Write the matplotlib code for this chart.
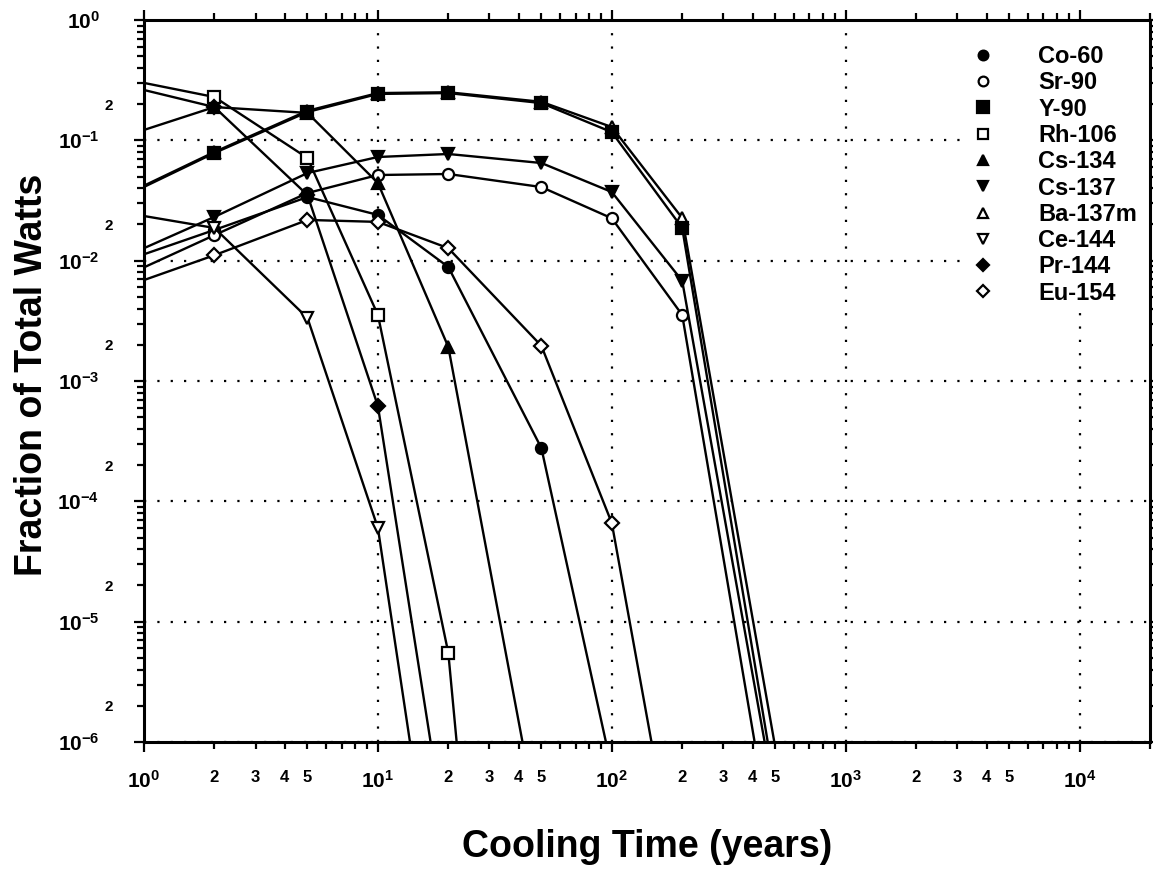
import matplotlib
matplotlib.use('Agg')
import matplotlib.pyplot as plt
import numpy as np
from matplotlib.ticker import FixedLocator, FixedFormatter, LogLocator, FuncFormatter
from matplotlib.lines import Line2D
from matplotlib.patches import Rectangle

plt.rcParams['font.family'] = ['Liberation Sans', 'DejaVu Sans']
plt.rcParams['mathtext.fontset'] = 'custom'
plt.rcParams['mathtext.rm'] = 'Liberation Sans'
plt.rcParams['mathtext.bf'] = 'Liberation Sans:bold'

# ---------------- data ----------------
YEARS = [1, 2, 5, 10, 20, 50, 100, 200, 500]

co60 = [0.0113, 0.0180, 0.0338, 0.0240, 0.00886, 2.77e-4, 6.0e-7]
sr90 = [0.0088, 0.0163, 0.0365, 0.0515, 0.0525, 0.0409, 0.0225, 0.00354, 9.7e-8]
y90 = [0.041, 0.0785, 0.172, 0.243, 0.247, 0.204, 0.117, 0.0187, 4.2e-7]
rh106 = [0.300, 0.229, 0.0713, 0.00354, 5.5e-6, 3e-14]
cs134 = [0.122, 0.189, 0.169, 0.0442, 0.00192, 1.46e-7]
cs137 = [0.0127, 0.0231, 0.0535, 0.0727, 0.0770, 0.0648, 0.0372, 0.0068, 3.2e-7]
ba137m = [0.042, 0.080, 0.176, 0.247, 0.251, 0.209, 0.129, 0.0226, 9e-7]
ce144 = [0.0235, 0.0187, 0.00334, 6.0e-5, 7.5e-9]
pr144 = [0.262, 0.189, 0.0351, 6.2e-4, 1.15e-7]
eu154 = [0.0069, 0.0111, 0.0218, 0.0210, 0.0127, 0.00196, 6.6e-5, 3.9e-8]

NUCLIDES = ['Co-60', 'Sr-90', 'Y-90', 'Rh-106', 'Cs-134', 'Cs-137',
            'Ba-137m', 'Ce-144', 'Pr-144', 'Eu-154']
SERIES = [co60, sr90, y90, rh106, cs134, cs137, ba137m, ce144, pr144, eu154]

X_MAJOR = [1, 10, 100, 1000, 10000]
X_MAJOR_LABELS = [r'$\mathbf{10^{0}}$', r'$\mathbf{10^{1}}$', r'$\mathbf{10^{2}}$',
                  r'$\mathbf{10^{3}}$', r'$\mathbf{10^{4}}$']
Y_MAJOR = [1e0, 1e-1, 1e-2, 1e-3, 1e-4, 1e-5, 1e-6]
Y_MAJOR_LABELS = [r'$\mathbf{10^{0}}$', r'$\mathbf{10^{-1}}$', r'$\mathbf{10^{-2}}$',
                  r'$\mathbf{10^{-3}}$', r'$\mathbf{10^{-4}}$', r'$\mathbf{10^{-5}}$',
                  r'$\mathbf{10^{-6}}$']
X_MINOR_LABELED = [2, 3, 4, 5]
Y_MINOR_LABELED = [2]

# ---------------- styles ----------------
styles = {
    'Co-60':   dict(marker='o', mfc='black', ms=8),
    'Sr-90':   dict(marker='o', mfc='white', ms=8),
    'Y-90':    dict(marker='s', mfc='black', ms=9),
    'Rh-106':  dict(marker='s', mfc='white', ms=8),
    'Cs-134':  dict(marker='^', mfc='black', ms=8),
    'Cs-137':  dict(marker='v', mfc='black', ms=8),
    'Ba-137m': dict(marker='^', mfc='white', ms=8),
    'Ce-144':  dict(marker='v', mfc='white', ms=8),
    'Pr-144':  dict(marker='D', mfc='black', ms=7),
    'Eu-154':  dict(marker='D', mfc='white', ms=7),
}
draw_order = ['Ba-137m', 'Co-60', 'Sr-90', 'Rh-106', 'Cs-134', 'Cs-137',
              'Ce-144', 'Pr-144', 'Eu-154', 'Y-90']

fig = plt.figure(figsize=(11.53, 8.69), dpi=100)
ax = fig.add_axes([144/1153, 1 - 742/869, (1150-144)/1153, (742-20)/869])
ax.set_xscale('log')
ax.set_yscale('log')
ax.set_xlim(1, 2e4)
ax.set_ylim(1e-6, 1)

data = dict(zip(NUCLIDES, SERIES))
for name in draw_order:
    vals = data[name]
    st = styles[name]
    ax.plot(YEARS[:len(vals)], vals, color='black', lw=1.7,
            marker=st['marker'], ms=st['ms'], mfc=st['mfc'], mec='black', mew=1.6,
            markevery=slice(1, None), zorder=3)

# grid
ax.grid(True, which='major', color='black', linestyle=(0, (1, 5)), lw=1.6, zorder=1)

# white area behind the legend (the grid stops there)
ax.add_patch(Rectangle((0.816, 0.61), 0.184, 0.39, transform=ax.transAxes,
                       facecolor='white', edgecolor='none', zorder=2))

# ticks
ax.xaxis.set_major_locator(FixedLocator(X_MAJOR))
ax.xaxis.set_major_formatter(FixedFormatter(X_MAJOR_LABELS))
ax.xaxis.set_minor_locator(LogLocator(base=10, subs=np.arange(2, 10), numticks=20))

def xminor(v, pos):
    if v > 1.5e4:
        return ''
    m = int(round(v / 10 ** np.floor(np.log10(v) + 1e-9)))
    return str(m) if m in X_MINOR_LABELED else ''

ax.xaxis.set_minor_formatter(FuncFormatter(xminor))

ax.yaxis.set_major_locator(FixedLocator(Y_MAJOR))
ax.yaxis.set_major_formatter(FixedFormatter(Y_MAJOR_LABELS))
ax.yaxis.set_minor_locator(LogLocator(base=10, subs=np.arange(2, 10), numticks=20))

def yminor(v, pos):
    m = int(round(v / 10 ** np.floor(np.log10(v) + 1e-9)))
    return str(m) if m in Y_MINOR_LABELED else ''

ax.yaxis.set_minor_formatter(FuncFormatter(yminor))

for sp in ax.spines.values():
    sp.set_linewidth(2.2)

ax.tick_params(which='both', direction='out', top=True, right=True, width=1.6)
ax.tick_params(which='major', length=7)
ax.tick_params(which='minor', length=5)
ax.xaxis.set_tick_params(which='major', pad=13, labelsize=15)
ax.xaxis.set_tick_params(which='minor', pad=15, labelsize=12)
ax.yaxis.set_tick_params(which='major', pad=25, labelsize=15)
ax.yaxis.set_tick_params(which='minor', pad=17, labelsize=11)
for lab in ax.get_xticklabels(minor=True) + ax.get_yticklabels(minor=True):
    lab.set_fontweight('bold')

ax.set_xlabel('Cooling Time (years)', fontsize=27, fontweight='bold', labelpad=27)
ax.set_ylabel('Fraction of Total Watts', fontsize=27, fontweight='bold')
ax.yaxis.set_label_coords(-0.093, 0.508)

# legend (markers only)
handles = [Line2D([], [], linestyle='none', marker=styles[n]['marker'],
                  mfc=styles[n]['mfc'], mec='black', mew=1.6,
                  ms=styles[n]['ms'] - 1) for n in NUCLIDES]
leg = ax.legend(handles, NUCLIDES, loc='upper left', bbox_to_anchor=(0.822, 0.9654),
                frameon=False, borderpad=0, borderaxespad=0, handlelength=1.0,
                handletextpad=1.85, labelspacing=0.14,
                prop=dict(family='Liberation Sans', weight='bold', size=17))
leg.set_zorder(5)

fig.savefig('out.png', dpi=100)
